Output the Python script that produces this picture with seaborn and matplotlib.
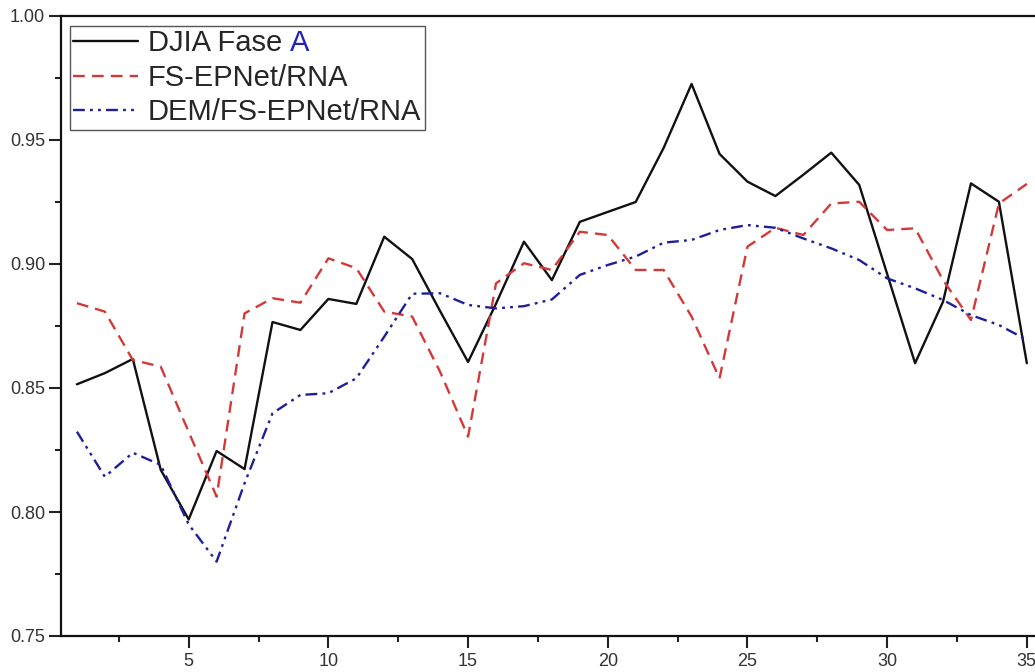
import matplotlib
matplotlib.use("Agg")
import matplotlib.pyplot as plt
from matplotlib.ticker import MultipleLocator, FormatStrFormatter
import pandas as pd
import seaborn as sns

# Period index and the three series
periods = list(range(1, 36))
djia = [0.8515, 0.8560, 0.8617, 0.8170, 0.7970, 0.8246, 0.8173, 0.8766, 0.8734, 0.8859,
        0.8839, 0.9110, 0.9020, 0.8810, 0.8605, 0.8840, 0.9090, 0.8935, 0.9170, 0.9210,
        0.9250, 0.9468, 0.9726, 0.9444, 0.9332, 0.9274, 0.9360, 0.9449, 0.9319, 0.8960,
        0.8600, 0.8848, 0.9325, 0.9251, 0.8600]
fs_epnet = [0.8842, 0.8808, 0.8613, 0.8586, 0.8323, 0.8062, 0.8801, 0.8862, 0.8844, 0.9023,
            0.8983, 0.8808, 0.8788, 0.8565, 0.8304, 0.8922, 0.9003, 0.8976, 0.9130, 0.9117,
            0.8976, 0.8976, 0.8788, 0.8539, 0.9070, 0.9146, 0.9117, 0.9244, 0.9251, 0.9137,
            0.9144, 0.8935, 0.8774, 0.9244, 0.9323]
dem_fs_epnet = [0.8324, 0.8142, 0.8239, 0.8190, 0.7950, 0.7800, 0.8116, 0.8398, 0.8472, 0.8479,
                0.8539, 0.8707, 0.8880, 0.8882, 0.8835, 0.8821, 0.8830, 0.8857, 0.8956, 0.8996,
                0.9030, 0.9086, 0.9097, 0.9137, 0.9157, 0.9146, 0.9103, 0.9063, 0.9016, 0.8942,
                0.8902, 0.8855, 0.8794, 0.8754, 0.8694]

labels = ["DJIA Fase ", "FS-EPNet/RNA", "DEM/FS-EPNet/RNA"]
colors = ["#111111", "#d23a3a", "#1f1f9a"]
styles = ["-", (0, (5.0, 3.0)), (0, (5.0, 2.2, 1.2, 2.2, 1.2, 2.2))]

sns.set_style("ticks")
plt.rcParams["font.family"] = ["Liberation Sans", "DejaVu Sans"]

fig = plt.figure(figsize=(10.35, 6.72), dpi=100)
ax = fig.add_axes([61 / 1035, 36 / 672, 984 / 1035, 620 / 672])

for lab, vals, col, ls in zip(labels, [djia, fs_epnet, dem_fs_epnet], colors, styles):
    df = pd.DataFrame({"period": periods, "value": vals})
    sns.lineplot(data=df, x="period", y="value", ax=ax, color=col,
                 linestyle=ls, linewidth=1.7, label=lab)

ax.set_xlim(0.43, 35.65)
ax.set_ylim(0.75, 1.00)
ax.set_xlabel("")
ax.set_ylabel("")

ax.xaxis.set_major_locator(MultipleLocator(5))
ax.xaxis.set_minor_locator(MultipleLocator(2.5))
ax.yaxis.set_major_locator(MultipleLocator(0.05))
ax.yaxis.set_minor_locator(MultipleLocator(0.025))
ax.yaxis.set_major_formatter(FormatStrFormatter("%.2f"))

ax.tick_params(which="major", direction="out", length=8.5, width=1.5,
               labelsize=13, color="#222222", labelcolor="#333333")
ax.tick_params(which="minor", direction="out", length=4.5, width=1.5, color="#222222")
ax.tick_params(axis="y", which="major", pad=3)
ax.tick_params(axis="x", which="major", pad=4)
ax.xaxis.set_ticks_position("bottom")
ax.yaxis.set_ticks_position("left")
for side in ["left", "bottom", "top", "right"]:
    ax.spines[side].set_visible(True)
    ax.spines[side].set_linewidth(1.6)
    ax.spines[side].set_color("#111111")

leg = ax.legend(loc="upper left", bbox_to_anchor=(0.009, 0.984), borderaxespad=0,
                fontsize=21, frameon=True, fancybox=False, edgecolor="#555555",
                framealpha=1, handlelength=2.2, handletextpad=0.35,
                labelspacing=0.22, borderpad=0.12)
leg.get_frame().set_linewidth(1.0)

# Blue phase letter appended to the first legend entry
ax.annotate("A", xy=(1, 0), xycoords=leg.get_texts()[0], xytext=(0, 0),
            textcoords="offset points", va="bottom", ha="left",
            fontsize=21, color="#2222bb", zorder=10, annotation_clip=False)

fig.savefig("out.png", dpi=100)
